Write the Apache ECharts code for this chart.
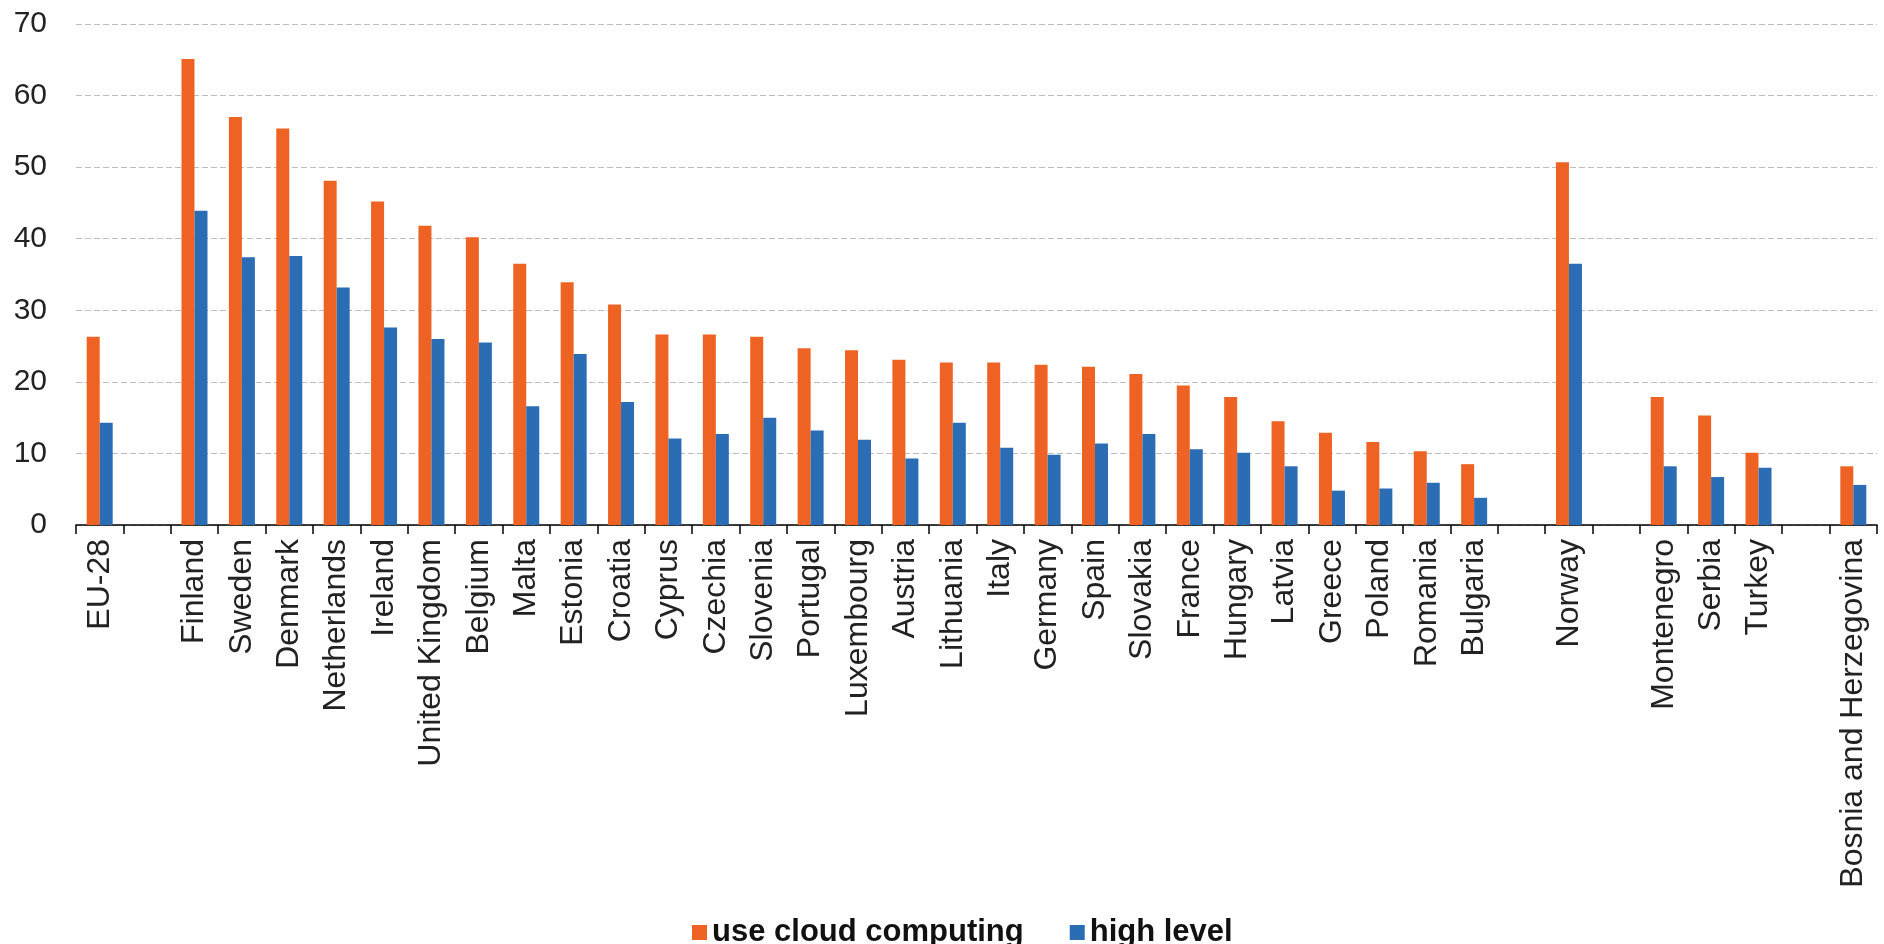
<!DOCTYPE html>
<html>
<head>
<meta charset="utf-8">
<title>Enterprises using cloud computing</title>
<script src="https://cdn.jsdelivr.net/npm/echarts@6/dist/echarts.min.js"></script>
<style>
  html, body { margin: 0; padding: 0; background: #ffffff; }
  #chart { width: 1884px; height: 944px; }
</style>
</head>
<body>
<div id="chart"></div>
<script>
// Country groups are separated by empty slots (distinct blank names).
const categories = [
  'EU-28', ' ',
  'Finland', 'Sweden', 'Denmark', 'Netherlands', 'Ireland', 'United Kingdom',
  'Belgium', 'Malta', 'Estonia', 'Croatia', 'Cyprus', 'Czechia', 'Slovenia',
  'Portugal', 'Luxembourg', 'Austria', 'Lithuania', 'Italy', 'Germany', 'Spain',
  'Slovakia', 'France', 'Hungary', 'Latvia', 'Greece', 'Poland', 'Romania',
  'Bulgaria', '  ',
  'Norway', '   ',
  'Montenegro', 'Serbia', 'Turkey', '    ',
  'Bosnia and Herzegovina'
];

const useCloud = [
  26.3, null,
  65.1, 57.0, 55.4, 48.1, 45.2, 41.8,
  40.2, 36.5, 33.9, 30.8, 26.6, 26.6, 26.3,
  24.7, 24.4, 23.1, 22.7, 22.7, 22.4, 22.1,
  21.1, 19.5, 17.9, 14.5, 12.9, 11.6, 10.3,
  8.5, null,
  50.7, null,
  17.9, 15.3, 10.1, null,
  8.2
];

const highLevel = [
  14.3, null,
  43.9, 37.4, 37.6, 33.2, 27.6, 26.0,
  25.5, 16.6, 23.9, 17.2, 12.1, 12.7, 15.0,
  13.2, 11.9, 9.3, 14.3, 10.8, 9.8, 11.4,
  12.7, 10.6, 10.1, 8.2, 4.8, 5.1, 5.9,
  3.8, null,
  36.5, null,
  8.2, 6.7, 8.0, null,
  5.6
];

const seriesNames = ['use cloud computing', 'high level'];
const yMin = 0, yMax = 70, yStep = 10;

const chart = echarts.init(document.getElementById('chart'), null, { renderer: 'canvas' });

const FONT = '"Liberation Sans", Arial, sans-serif';

chart.setOption({
  backgroundColor: '#ffffff',
  animation: false,
  color: ['#EE6323', '#2A6DB5'],
  grid: { left: 76, right: 7, top: 24, bottom: 419, containLabel: false },
  legend: {
    data: seriesNames,
    left: 687,
    top: 912,
    icon: 'rect',
    itemWidth: 15,
    itemHeight: 15,
    itemGap: 46,
    textStyle: { fontFamily: FONT, fontSize: 31, fontWeight: 'bold', color: '#111111' }
  },
  xAxis: {
    type: 'category',
    data: categories,
    boundaryGap: true,
    axisLine: { show: true, lineStyle: { color: '#000000', width: 1.5 } },
    axisTick: { show: true, interval: 0, length: 9, lineStyle: { color: '#000000', width: 1.5 } },
    axisLabel: {
      interval: 0,
      rotate: 90,
      margin: 14,
      fontFamily: FONT,
      fontSize: 32,
      color: '#222222'
    },
    splitLine: { show: false }
  },
  yAxis: {
    type: 'value',
    min: yMin,
    max: yMax,
    interval: yStep,
    axisLine: { show: false },
    axisTick: { show: false },
    axisLabel: { margin: 29, fontFamily: FONT, fontSize: 30, color: '#222222' },
    splitLine: { show: true, lineStyle: { color: '#BDBDBD', width: 1, type: [6, 3] } }
  },
  series: [
    {
      name: seriesNames[0],
      type: 'bar',
      data: useCloud,
      barWidth: 13,
      barGap: '0%'
    },
    {
      name: seriesNames[1],
      type: 'bar',
      data: highLevel,
      barWidth: 13,
      barGap: '0%'
    }
  ]
});
</script>
</body>
</html>
